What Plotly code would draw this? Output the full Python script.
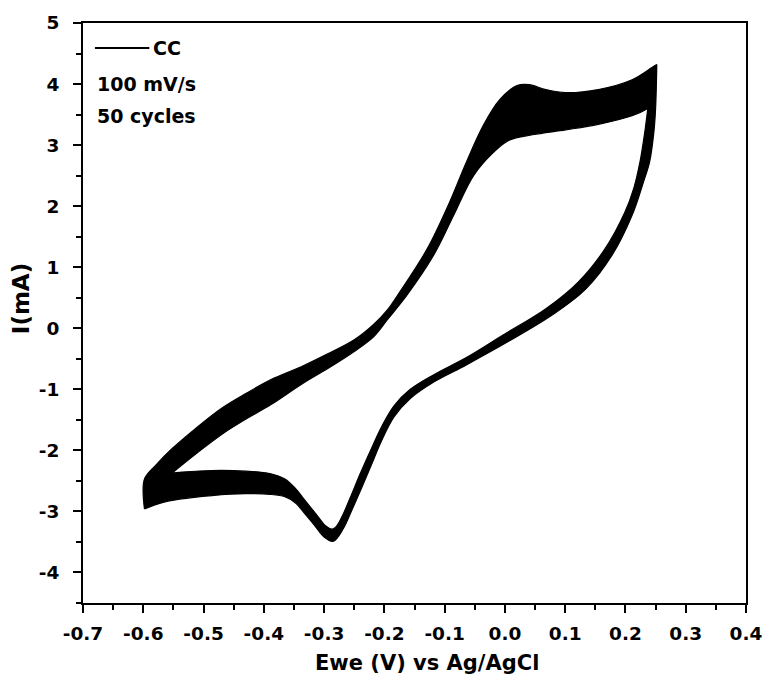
import plotly.graph_objects as go

# ---- data (band edges of the 50 overlapping cycles) ----
# forward (anodic) sweep, outer edge of the band
fwd_outer_v = [-0.598, -0.598, -0.578, -0.552, -0.513, -0.470, -0.430, -0.388, -0.338, -0.294,
               -0.250, -0.217, -0.195, -0.174, -0.129, -0.092, -0.064, -0.036, -0.009, 0.019,
               0.040, 0.068, 0.101, 0.155, 0.211, 0.244, 0.252]
fwd_outer_i = [-2.96, -2.47, -2.23, -1.97, -1.64, -1.31, -1.07, -0.84, -0.63, -0.42,
               -0.19, 0.07, 0.30, 0.60, 1.30, 2.06, 2.72, 3.32, 3.74, 3.97,
               3.99, 3.91, 3.86, 3.91, 4.07, 4.27, 4.32]
# forward (anodic) sweep, inner edge of the band
fwd_inner_v = [-0.552, -0.513, -0.470, -0.430, -0.388, -0.338, -0.294, -0.250, -0.217, -0.195,
               -0.162, -0.118, -0.085, -0.052, -0.019, 0.007, 0.046, 0.101, 0.155, 0.211, 0.237, 0.250]
fwd_inner_i = [-2.37, -2.06, -1.74, -1.49, -1.25, -0.92, -0.66, -0.38, -0.13, 0.14,
               0.55, 1.20, 1.85, 2.50, 2.88, 3.08, 3.17, 3.25, 3.34, 3.48, 3.60, 3.70]
# reverse (cathodic) sweep, outer edge of the band
rev_outer_v = [0.252, 0.250, 0.247, 0.240, 0.230, 0.211, 0.178, 0.134, 0.079, 0.007,
               -0.064, -0.118, -0.157, -0.184, -0.205, -0.222, -0.238, -0.254, -0.268, -0.285,
               -0.300, -0.315, -0.330, -0.348, -0.365, -0.390, -0.430, -0.486, -0.540, -0.570, -0.598]
rev_outer_i = [4.32, 3.60, 3.20, 2.72, 2.40, 1.85, 1.20, 0.64, 0.22, -0.21,
               -0.60, -0.88, -1.15, -1.45, -1.85, -2.25, -2.62, -2.98, -3.28, -3.49,
               -3.42, -3.24, -3.06, -2.86, -2.76, -2.72, -2.71, -2.74, -2.80, -2.86, -2.96]
# reverse (cathodic) sweep, inner edge of the band
rev_inner_v = [0.237, 0.232, 0.224, 0.214, 0.199, 0.166, 0.122, 0.068, -0.003, -0.064,
               -0.118, -0.157, -0.184, -0.205, -0.222, -0.240, -0.256, -0.270, -0.280, -0.287,
               -0.297, -0.312, -0.330, -0.348, -0.365, -0.390, -0.430, -0.486, -0.540, -0.552, -0.598]
rev_inner_i = [3.60, 3.21, 2.72, 2.30, 1.90, 1.30, 0.76, 0.32, -0.11, -0.48,
               -0.76, -1.00, -1.27, -1.62, -1.98, -2.38, -2.76, -3.08, -3.25, -3.29,
               -3.24, -3.06, -2.84, -2.62, -2.47, -2.38, -2.34, -2.33, -2.36, -2.37, -2.47]

x_tick_vals = [-0.7, -0.6, -0.5, -0.4, -0.3, -0.2, -0.1, 0.0, 0.1, 0.2, 0.3, 0.4]
y_tick_vals = [-4, -3, -2, -1, 0, 1, 2, 3, 4, 5]
series_name = "CC"
info_lines = ["100 mV/s", "50 cycles"]
x_title = "Ewe (V) vs Ag/AgCl"
y_title = "I(mA)"

FONT = "DejaVu Sans, Arial, sans-serif"

fig = go.Figure()

for ov, oi, iv, ii in [(fwd_outer_v, fwd_outer_i, fwd_inner_v, fwd_inner_i),
                       (rev_outer_v, rev_outer_i, rev_inner_v, rev_inner_i)]:
    fig.add_trace(go.Scatter(x=ov, y=oi, mode="lines",
                             line=dict(color="black", width=1.2, shape="spline", smoothing=1),
                             name=series_name, showlegend=False, hoverinfo="skip"))
    # band between the two edges (endpoints joined by straight segments)
    fig.add_trace(go.Scatter(x=iv, y=ii, mode="lines", fill="tonexty", fillcolor="black",
                             line=dict(color="black", width=1.2, shape="spline", smoothing=1),
                             name=series_name, showlegend=False, hoverinfo="skip"))

axis_common = dict(showline=True, linecolor="black", linewidth=2, mirror=True,
                   ticks="outside", ticklen=8, tickwidth=2, tickcolor="black",
                   showgrid=False, zeroline=False,
                   tickfont=dict(family=FONT, size=18.5, color="black", weight="bold"))

fig.update_xaxes(range=[-0.7, 0.4], tickmode="array", tickvals=x_tick_vals,
                 ticktext=[f"{v:.1f}" for v in x_tick_vals],
                 minor=dict(ticks="outside", ticklen=5, tickwidth=2, tickcolor="black", dtick=0.05, tick0=0),
                 ticklabelstandoff=5,
                 **axis_common)
fig.update_yaxes(range=[-4.5, 5], tickmode="array", tickvals=y_tick_vals,
                 ticktext=[str(v) for v in y_tick_vals],
                 minor=dict(ticks="outside", ticklen=5, tickwidth=2, tickcolor="black", dtick=0.5, tick0=0),
                 ticklabelstandoff=10,
                 **axis_common)

# axis titles
fig.add_annotation(xref="paper", yref="paper", x=0.519, y=-0.103, text=x_title,
                   showarrow=False, xanchor="center", yanchor="middle",
                   font=dict(family=FONT, size=21, color="black", weight="bold"))
fig.add_annotation(xref="paper", yref="paper", x=-0.094, y=0.525, text=y_title, textangle=-90,
                   showarrow=False, xanchor="center", yanchor="middle",
                   font=dict(family=FONT, size=23, color="black", weight="bold"))

# legend-like label block
fig.add_shape(type="line", xref="paper", yref="paper", x0=0.018, x1=0.100, y0=0.957, y1=0.957,
              line=dict(color="black", width=2))
fig.add_annotation(xref="paper", yref="paper", x=0.102, y=0.957, text=series_name,
                   showarrow=False, xanchor="left", yanchor="middle",
                   font=dict(family=FONT, size=19, color="black", weight="bold"))
for k, txt in enumerate(info_lines):
    fig.add_annotation(xref="paper", yref="paper", x=0.018, y=0.894 - 0.054 * k, text=txt,
                       showarrow=False, xanchor="left", yanchor="middle",
                       font=dict(family=FONT, size=19, color="black", weight="bold"))

fig.update_layout(width=775, height=689, plot_bgcolor="white", paper_bgcolor="white",
                  margin=dict(l=83, r=23, t=20, b=86), showlegend=False)

fig.write_html("out.html")
